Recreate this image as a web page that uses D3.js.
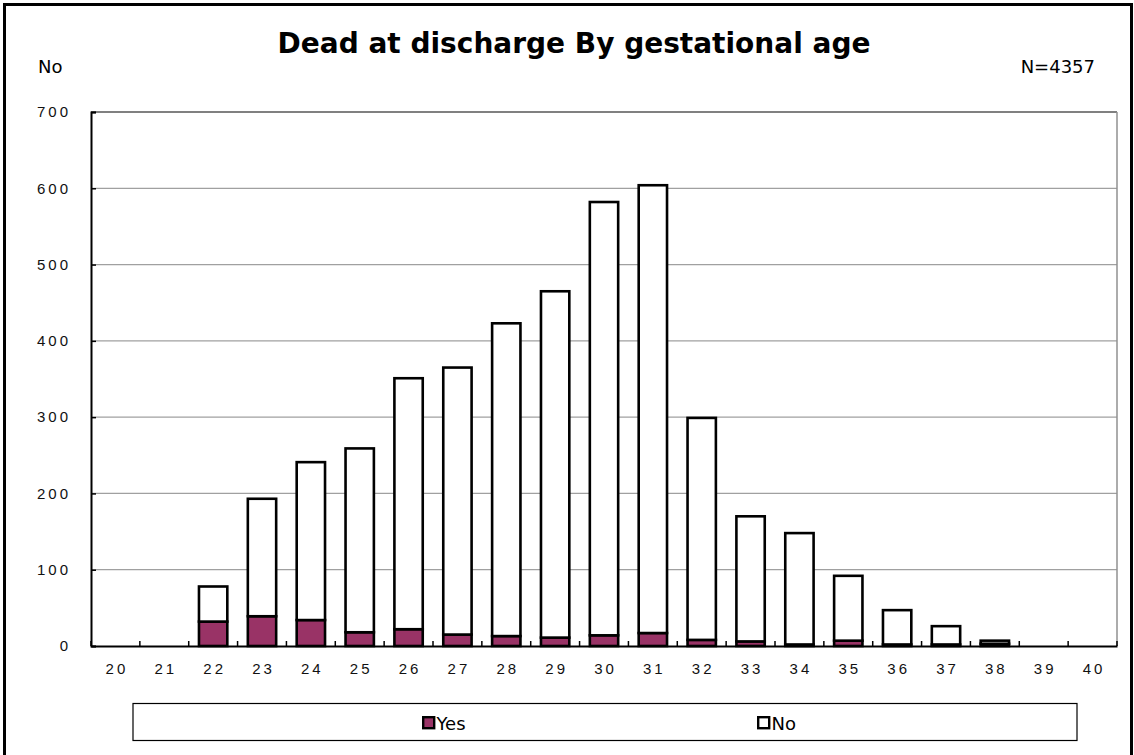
<!DOCTYPE html>
<html>
<head>
<meta charset="utf-8">
<script src="https://cdn.jsdelivr.net/npm/d3@7"></script>
<style>
  html, body { margin: 0; padding: 0; background: #fff; }
  svg { display: block; }
</style>
</head>
<body>
<svg id="chart" width="1134" height="755"></svg>
<script>
const categories = ["20","21","22","23","24","25","26","27","28","29","30","31","32","33","34","35","36","37","38","39","40"];
const yesValues = [0,0,32,39,34,18,22,15,13,11,14,17,8,6,2,7,2,2,3,0,0];
const noValues  = [0,0,46,154,207,241,329,350,410,454,568,587,291,164,146,85,45,24,4,0,0];
const seriesNames = ["Yes","No"];
const seriesColors = ["#993366","#ffffff"];
const yTicks = [0,100,200,300,400,500,600,700];
const titleText = "Dead at discharge By gestational age";
const yAxisLabel = "No";
const nLabel = "N=4357";

const svg = d3.select("#chart");
const W = 1134, H = 755;
const plot = {left: 91, right: 1117, top: 112, bottom: 646};

// outer frame
svg.append("rect").attr("x", 4.5).attr("y", 4.5).attr("width", W - 7).attr("height", H + 10)
  .attr("fill", "#fff").attr("stroke", "#000").attr("stroke-width", 3);

const rows = categories.map((c, i) => ({cat: c, Yes: yesValues[i], No: noValues[i]}));
const stacked = d3.stack().keys(seriesNames)(rows);

const x = d3.scaleBand().domain(categories).range([plot.left, plot.right])
  .paddingInner(0.42).paddingOuter(0.21);
const y = d3.scaleLinear().domain([0, 700]).range([plot.bottom, plot.top]);

// gridlines
svg.append("g").selectAll("line").data(yTicks.filter(t => t > 0)).join("line")
  .attr("x1", plot.left).attr("x2", plot.right)
  .attr("y1", d => y(d)).attr("y2", d => y(d))
  .attr("stroke", d => d === 700 ? "#808080" : "#a0a0a0")
  .attr("stroke-width", d => d === 700 ? 2 : 1.2);
// right border
svg.append("line").attr("x1", plot.right).attr("x2", plot.right)
  .attr("y1", plot.top).attr("y2", plot.bottom)
  .attr("stroke", "#909090").attr("stroke-width", 1.5);

// bars
svg.append("g").selectAll("g").data(stacked).join("g")
  .attr("fill", (d, i) => seriesColors[i])
  .selectAll("rect").data(d => d.filter(p => p[1] - p[0] > 0)).join("rect")
  .attr("x", d => x(d.data.cat))
  .attr("width", x.bandwidth())
  .attr("y", d => y(d[1]))
  .attr("height", d => y(d[0]) - y(d[1]))
  .attr("stroke", "#000").attr("stroke-width", 2.6);

const tickFont = "Liberation Sans";
// y axis
const yAxis = svg.append("g").attr("transform", `translate(${plot.left},0)`)
  .call(d3.axisLeft(y).tickValues(yTicks).tickSize(-5).tickPadding(20).tickFormat(d3.format("d")));
yAxis.select(".domain").attr("stroke", "#000").attr("stroke-width", 2);
yAxis.selectAll(".tick line").attr("stroke", "#000").attr("stroke-width", 1.5);
yAxis.selectAll(".tick text").attr("font-family", tickFont).attr("font-size", 15)
  .attr("letter-spacing", "3px").attr("fill", "#111");

// x axis
const xAxis = svg.append("g").attr("transform", `translate(0,${plot.bottom})`)
  .call(d3.axisBottom(x).tickSize(0).tickPadding(17));
xAxis.select(".domain").attr("stroke", "#000").attr("stroke-width", 2);
xAxis.selectAll(".tick text").attr("font-family", tickFont).attr("font-size", 15)
  .attr("letter-spacing", "3px").attr("dx", "1.5px").attr("fill", "#111");
// category boundary tick marks
const boundaries = d3.range(categories.length + 1).map(i => plot.left + i * x.step());
svg.append("g").selectAll("line").data(boundaries).join("line")
  .attr("x1", d => d).attr("x2", d => d)
  .attr("y1", plot.bottom).attr("y2", plot.bottom - 5)
  .attr("stroke", "#000").attr("stroke-width", 1.5);

// title & labels
svg.append("text").attr("x", 574).attr("y", 53).attr("text-anchor", "middle")
  .attr("font-family", "DejaVu Sans").attr("font-weight", "bold").attr("font-size", 28)
  .text(titleText);
svg.append("text").attr("x", 38).attr("y", 73)
  .attr("font-family", "DejaVu Sans").attr("font-size", 18).text(yAxisLabel);
svg.append("text").attr("x", 1095).attr("y", 73).attr("text-anchor", "end")
  .attr("font-family", "DejaVu Sans").attr("font-size", 18).text(nLabel);

// legend
const lg = svg.append("g");
lg.append("rect").attr("x", 133).attr("y", 703.5).attr("width", 944).attr("height", 37)
  .attr("fill", "#fff").attr("stroke", "#000").attr("stroke-width", 1.2);
const legendX = [422, 757];
const items = lg.selectAll("g.item").data(seriesNames).join("g").attr("class", "item")
  .attr("transform", (d, i) => `translate(${legendX[i]},716)`);
items.append("rect").attr("x", 1.2).attr("y", 1.2).attr("width", 11).attr("height", 11)
  .attr("fill", (d, i) => seriesColors[i]).attr("stroke", "#000").attr("stroke-width", 2.4);
items.append("text").attr("x", 14.5).attr("y", 13.5)
  .attr("font-family", "DejaVu Sans").attr("font-size", 18).text(d => d);
</script>
</body>
</html>
